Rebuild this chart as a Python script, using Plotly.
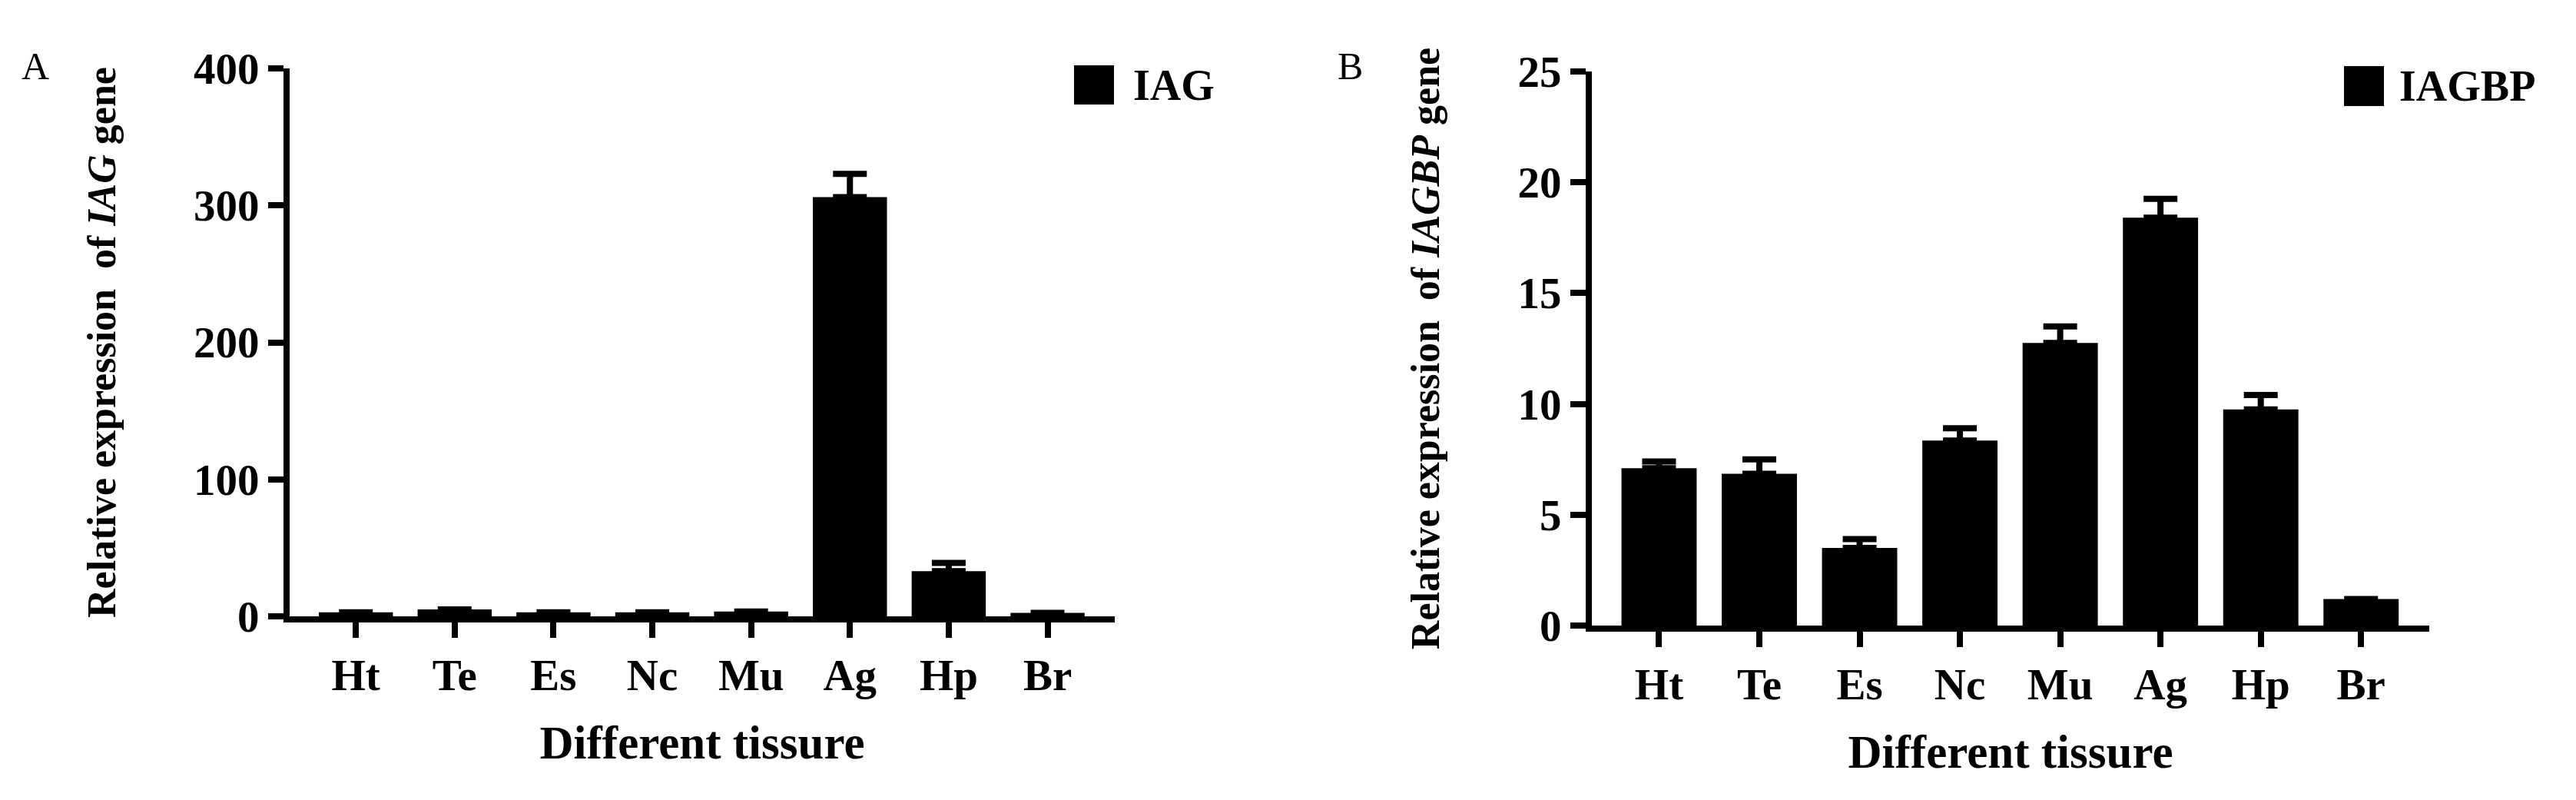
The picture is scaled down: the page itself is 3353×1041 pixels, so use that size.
import plotly.graph_objects as go

# tissues on the x axis (same for both panels)
tissues = ['Ht', 'Te', 'Es', 'Nc', 'Mu', 'Ag', 'Hp', 'Br']

# panel A - IAG relative expression (no visible error bar -> None)
iag_mean = [3, 5, 3, 3, 3.5, 306, 33, 2.5]
iag_err = [None, None, None, None, None, 17, 6, None]

# panel B - IAGBP relative expression
iagbp_mean = [7.1, 6.85, 3.5, 8.35, 12.75, 18.4, 9.75, 1.2]
iagbp_err = [0.3, 0.65, 0.4, 0.55, 0.75, 0.85, 0.65, None]

FONT = 'Liberation Serif'


def bar_trace(y, err, xa, ya):
    return go.Bar(
        x=tissues, y=y, xaxis=xa, yaxis=ya,
        marker=dict(color='black', line=dict(width=0)),
        width=0.75,
        error_y=dict(type='data', array=err, arrayminus=[0] * len(err),
                     symmetric=False, color='black', thickness=8, width=22),
        showlegend=False)


fig = go.Figure()
fig.add_trace(bar_trace(iag_mean, iag_err, 'x', 'y'))
fig.add_trace(bar_trace(iagbp_mean, iagbp_err, 'x2', 'y2'))

tick_font = dict(family=FONT, size=57, color='black', weight='bold')

xstyle = dict(showline=True, linecolor='black', linewidth=8,
              ticks='outside', ticklen=20, tickwidth=8, tickcolor='black',
              tickfont=tick_font, automargin=False,
              range=[-0.67, 7.68], showgrid=False, zeroline=False,
              title=dict(text='<b>Different tissure</b>', standoff=38,
                         font=dict(family=FONT, size=61, color='black')))

ystyle = dict(showline=True, linecolor='black', linewidth=8,
              ticks='outside', ticklen=20, tickwidth=8, tickcolor='black',
              tickfont=tick_font, automargin=False,
              showgrid=False, zeroline=False)

fig.update_layout(
    width=3353, height=1041,
    margin=dict(l=0, r=0, t=0, b=0, autoexpand=False),
    plot_bgcolor='white', paper_bgcolor='white',
    bargap=0.25,
    xaxis=dict(xstyle, domain=[0.11005, 0.43036], anchor='y'),
    yaxis=dict(ystyle, domain=[0.23727, 0.92219], anchor='x',
               range=[0, 400], tickvals=[0, 100, 200, 300, 400],
               tickformat='d',
               title=dict(text='<b>Relative expression  of <i>IAG</i> gene</b>',
                          standoff=88,
                          font=dict(family=FONT, size=52, color='black'))),
    xaxis2=dict(xstyle, domain=[0.61557, 0.94065], anchor='y2'),
    yaxis2=dict(ystyle, domain=[0.22574, 0.91835], anchor='x2',
                range=[0, 25], tickvals=[0, 5, 10, 15, 20, 25],
                title=dict(text='<b>Relative expression  of <i>IAGBP</i> gene</b>',
                           standoff=88,
                           font=dict(family=FONT, size=52, color='black'))),
)

# panel letters
for lab, xp in [('A', 0.0113), ('B', 0.5219)]:
    fig.add_annotation(text=lab, x=xp, y=0.925, xref='paper', yref='paper',
                       showarrow=False, xanchor='center', yanchor='middle',
                       font=dict(family=FONT, size=50, color='black'))

# legend boxes (square + label) for each panel
for name, x0, x1, y0, y1, tx in [('IAG', 0.41455, 0.43006, 0.87704, 0.92603, 0.43692),
                                 ('IAGBP', 0.90755, 0.92306, 0.87512, 0.92507, 0.92842)]:
    fig.add_shape(type='rect', xref='paper', yref='paper',
                  x0=x0, x1=x1, y0=y0, y1=y1,
                  fillcolor='black', line=dict(width=0))
    fig.add_annotation(text='<b>' + name + '</b>', x=tx, y=(y0 + y1) / 2,
                       xref='paper', yref='paper', showarrow=False,
                       xanchor='left', yanchor='middle',
                       font=dict(family=FONT, size=56, color='black'))

fig.write_html("out.html")
